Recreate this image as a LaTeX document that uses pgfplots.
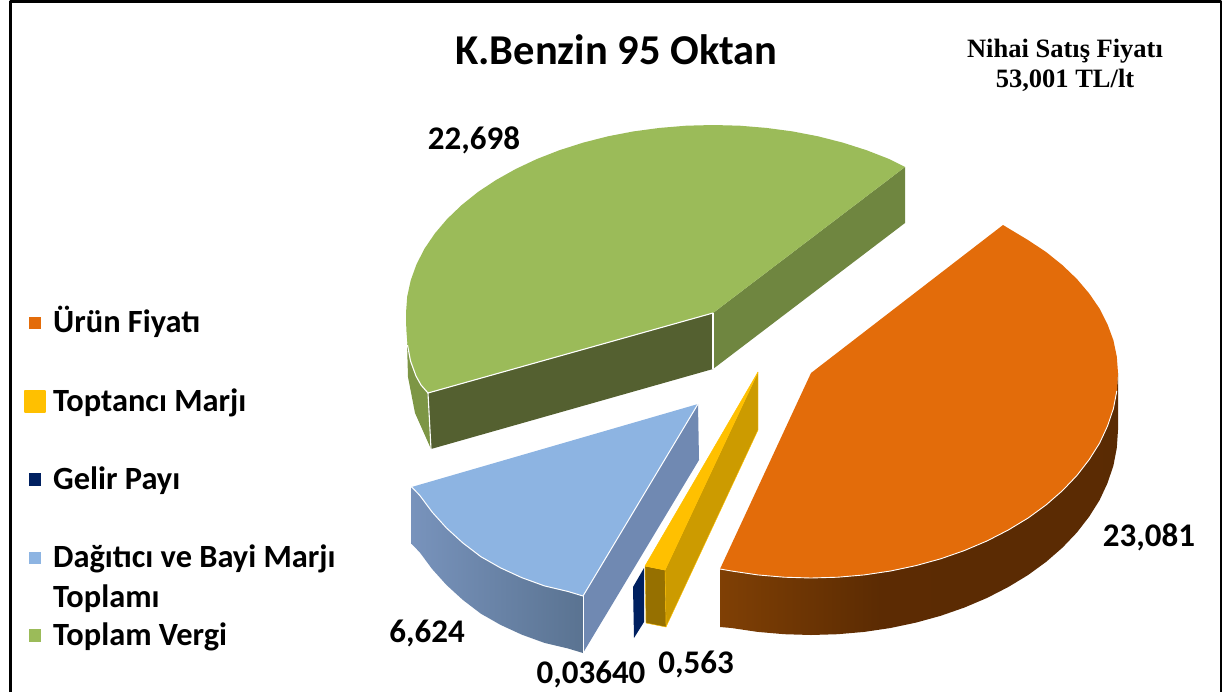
\documentclass[border=0pt]{standalone}
\usepackage{pgfplots}
\pgfplotsset{compat=1.18}
\usepackage{fontspec}
\setmainfont{Carlito}
\newfontfamily\serifb{Liberation Serif}
\definecolor{cgreen}{HTML}{9BBB59}
\definecolor{cgreenA}{HTML}{546030}
\definecolor{cgreenB}{HTML}{6F8640}
\definecolor{cgreenC}{HTML}{7D9645}
\definecolor{corange}{HTML}{E36C0A}
\definecolor{cyellow}{HTML}{FFC000}
\definecolor{cyellA}{HTML}{967000}
\definecolor{cyellB}{HTML}{CC9B00}
\definecolor{cnavy}{HTML}{002060}
\definecolor{cblue}{HTML}{8DB4E2}
\definecolor{cblueB}{HTML}{7089B2}
\definecolor{cblueL}{HTML}{7893BC}
\definecolor{cblueR}{HTML}{5A7391}
\pgfdeclarehorizontalshading{orangeside}{100bp}{rgb(0bp)=(0.50,0.25,0.02); rgb(25bp)=(0.50,0.25,0.02); rgb(45bp)=(0.36,0.17,0.01); rgb(100bp)=(0.35,0.165,0.01)}
\begin{document}
\begin{tikzpicture}
\begin{axis}[
  at={(0pt,0pt)},anchor=south west,
  width=1223pt,height=692pt,scale only axis,
  xmin=0,xmax=1223,ymin=0,ymax=692,y dir=reverse,
  hide axis,clip=false,
  every axis plot/.append style={line join=round},
]
\addplot[draw=none,forget plot] coordinates {(0,0)(1223,692)};
% frame
\addplot[black,line width=2.5pt] coordinates {(10.5,692) (10.5,1.3) (1221,1.3) (1221,692)};
% green
\addplot[fill=cgreenC,draw=none] coordinates {(407,342)(408,377)(415,413)(431,449)(428,393)(416,376)} -- cycle;
\addplot[fill=cgreenA,draw=none] coordinates {(428,393)(713,313)(713,369)(431,449)} -- cycle;
\addplot[fill=cgreenB,draw=none] coordinates {(713,313)(905,167)(905,223)(713,369)} -- cycle;
\addplot[fill=cgreen,draw=none] coordinates {(905,167)(889.1,159)(866.5,150.2)(842.7,142.6)(818,136.3)(792.5,131.4)(766.3,127.9)(739.8,125.7)(713,125)(686.2,125.7)(659.7,127.9)(633.5,131.4)(608,136.3)(583.3,142.6)(559.5,150.2)(536.9,159)(515.7,169)(495.9,180.1)(477.8,192.1)(461.5,205.2)(447.1,219)(434.8,233.5)(424.5,248.7)(416.5,264.3)(410.7,280.4)(407.2,296.6)(406,313)(406.3,329.4)(407.5,345)(410.5,361)(416,376)(421,385)(428,393)(713,313)} -- cycle;
\addplot[white,line width=1.1pt] coordinates {(407.5,345)(410.5,361)(416,376)(421,385)(428,393)(713,313)};
\addplot[white,line width=1.1pt] coordinates {(428,393)(431,449)};
\addplot[white,line width=1.1pt] coordinates {(713,313)(713,369)};
% orange
\addplot[draw=none,shading=orangeside] coordinates {(1118,373)(1116.8,390.9)(1113.4,408.6)(1107.5,426.1)(1099.6,443.1)(1089.2,459.6)(1076.9,475.5)(1062.5,490.6)(1046.2,504.8)(1028.1,518)(1008.3,530)(987.1,540.9)(964.5,550.5)(940.7,558.8)(916,565.6)(890.5,571)(864.3,574.9)(837.8,577.2)(811,578)(784.2,577.2)(757.7,574.9)(731.5,571)(720,569)(720,627)(731.5,628)(757.7,631.9)(784.2,634.2)(811,635)(837.8,634.2)(864.3,631.9)(890.5,628)(916,622.6)(940.7,615.8)(964.5,607.5)(987.1,597.9)(1008.3,587)(1028.1,575)(1046.2,561.8)(1062.5,547.6)(1076.9,532.5)(1089.2,516.6)(1099.6,500.1)(1107.5,483.1)(1113.4,465.6)(1116.8,447.9)(1118,430)} -- cycle;
\addplot[fill=corange,draw=none] coordinates {(1003,225)(1028.1,240.1)(1046.2,252.1)(1062.5,265.2)(1076.9,279)(1089.2,293.5)(1099.6,308.7)(1107.5,324.3)(1113.4,340.3)(1116.8,356.6)(1118,373)(1116.8,390.9)(1113.4,408.6)(1107.5,426.1)(1099.6,443.1)(1089.2,459.6)(1076.9,475.5)(1062.5,490.6)(1046.2,504.8)(1028.1,518)(1008.3,530)(987.1,540.9)(964.5,550.5)(940.7,558.8)(916,565.6)(890.5,571)(864.3,574.9)(837.8,577.2)(811,578)(784.2,577.2)(757.7,574.9)(731.5,571)(720,569)(811,373)} -- cycle;
\addplot[white,line width=0.9pt] coordinates {(1116.8,390.9)(1113.4,408.6)(1107.5,426.1)(1099.6,443.1)(1089.2,459.6)(1076.9,475.5)(1062.5,490.6)(1046.2,504.8)(1028.1,518)(1008.3,530)(987.1,540.9)(964.5,550.5)(940.7,558.8)(916,565.6)(890.5,571)(864.3,574.9)(837.8,577.2)(811,578)(784.2,577.2)(757.7,574.9)(731.5,571)(720,569)};
% blue
\addplot[fill=cblueB,draw=none] coordinates {(698,404)(583,596)(583,653)(699,460)} -- cycle;
\addplot[draw=none,left color=cblueL,right color=cblueR] coordinates {(411.7,487)(419.8,495.4)(432.1,512)(446.5,528)(462.8,542.9)(480.9,556.7)(500.6,567.9)(521.9,577.7)(544.5,585.9)(568.1,591.5)(583,596)(583,653)(568.1,648.5)(544.5,642.9)(521.9,634.7)(500.6,624.9)(480.9,613.7)(462.8,599.9)(446.5,585)(432.1,569)(419.8,552.4)(411.7,544)} -- cycle;
\addplot[fill=cblue,draw=none] coordinates {(411.7,487)(698,404)(583,596)(568.1,591.5)(544.5,585.9)(521.9,577.7)(500.6,567.9)(480.9,556.7)(462.8,542.9)(446.5,528)(432.1,512)(419.8,495.4)} -- cycle;
\addplot[white,line width=1pt] coordinates {(411.7,487)(419.8,495.4)(432.1,512)(446.5,528)(462.8,542.9)(480.9,556.7)(500.6,567.9)(521.9,577.7)(544.5,585.9)(568.1,591.5)(583,596)(698,404)};
\addplot[white,line width=1pt] coordinates {(583,596)(583,653)};
% navy
\addplot[fill=cnavy,draw=none] coordinates {(644,568)(633,587)(634,638)(644,622)} -- cycle;
% yellow
\addplot[fill=cyellB,draw=cyellow,line width=0.4pt] coordinates {(665,570)(758,372)(758,430)(666,627)} -- cycle;
\addplot[fill=cyellA,draw=cyellow,line width=0.4pt] coordinates {(645,566)(665,570)(666,627)(646,623)} -- cycle;
\addplot[fill=cyellow,draw=cyellow,line width=0.5pt] coordinates {(645,566)(758,372)(665,570)} -- cycle;
% legend keys
\addplot[fill=corange,draw=none] coordinates {(29,317)(41,317)(41,329)(29,329)} -- cycle;
\addplot[fill=cyellow,draw=cyellow,line width=2pt,line join=round] coordinates {(25,391)(45,391)(45,412)(25,412)} -- cycle;
\addplot[fill=cnavy,draw=none] coordinates {(29,473)(41,473)(41,486)(29,486)} -- cycle;
\addplot[fill=cblue,draw=none] coordinates {(29,552)(41,552)(41,564)(29,564)} -- cycle;
\addplot[fill=cgreen,draw=none] coordinates {(29,629)(41,629)(41,642)(29,642)} -- cycle;
% text
\def\lf{\fontsize{32.4}{32.4}\selectfont\bfseries}
\def\dl{\fontsize{33}{33}\selectfont\bfseries}
\node[anchor=base west,inner sep=0pt] at (axis cs:455,64) {\fontsize{42.5}{42.5}\selectfont\bfseries K.Benzin 95 Oktan};
\node[anchor=base,inner sep=0pt] at (axis cs:1065,57) {\serifb\fontsize{26.5}{26.5}\selectfont\bfseries Nihai Satış Fiyatı};
\node[anchor=base,inner sep=0pt] at (axis cs:1065,87) {\serifb\fontsize{26.5}{26.5}\selectfont\bfseries 53,001 TL/lt};
\node[anchor=base west,inner sep=0pt] at (axis cs:53,332) {\lf Ürün Fiyatı};
\node[anchor=base west,inner sep=0pt] at (axis cs:53,411) {\lf Toptancı Marjı};
\node[anchor=base west,inner sep=0pt] at (axis cs:53,489) {\lf Gelir Payı};
\node[anchor=base west,inner sep=0pt] at (axis cs:53,567.5) {\lf Dağıtıcı ve Bayi Marjı};
\node[anchor=base west,inner sep=0pt] at (axis cs:53,607) {\lf Toplamı};
\node[anchor=base west,inner sep=0pt] at (axis cs:53,645) {\lf Toplam Vergi};
\node[anchor=base,inner sep=0pt] at (axis cs:474,149) {\dl 22,698};
\node[anchor=base,inner sep=0pt] at (axis cs:1149,546) {\dl 23,081};
\node[anchor=base,inner sep=0pt] at (axis cs:427,642) {\dl 6,624};
\node[anchor=base,inner sep=0pt] at (axis cs:591,683) {\dl 0,03640};
\node[anchor=base,inner sep=0pt] at (axis cs:696,673) {\dl 0,563};
\end{axis}
\end{tikzpicture}
\end{document}
